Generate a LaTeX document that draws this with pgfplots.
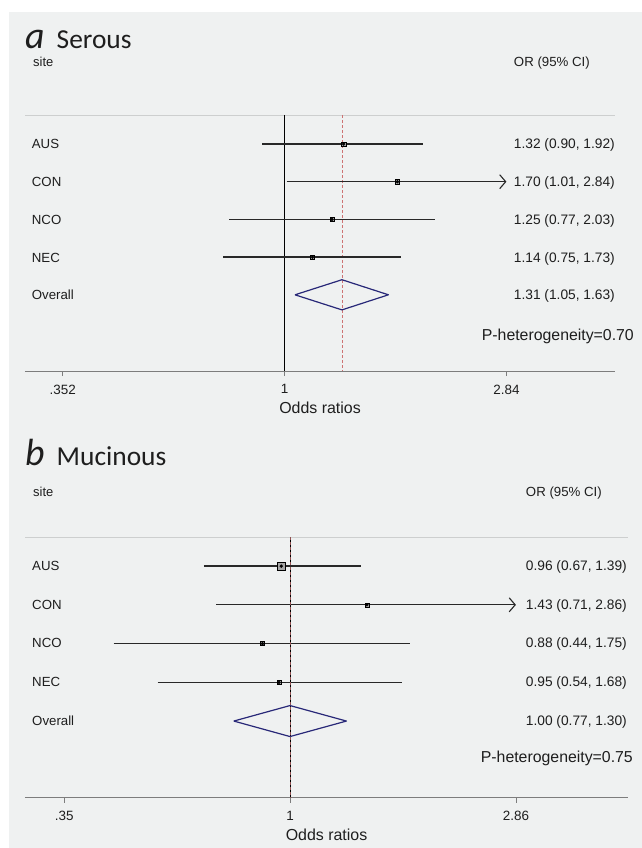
\documentclass[border=0pt]{standalone}
\usepackage{fontspec}
\setmainfont{Liberation Sans}
\newfontfamily\titlefont{Carlito}
\usepackage{pgfplots}
\pgfplotsset{compat=1.18}
\usetikzlibrary{arrows.meta}
\definecolor{bg}{RGB}{239,241,241}
\definecolor{navyd}{RGB}{40,40,120}
\definecolor{refred}{RGB}{205,115,115}
\definecolor{cigray}{RGB}{40,40,40}
\definecolor{axgray}{RGB}{125,125,125}
\definecolor{topgray}{RGB}{205,207,207}
\definecolor{boxgray}{RGB}{165,165,165}
\definecolor{txt}{RGB}{30,30,30}
\newcommand{\fs}[1]{\fontsize{#1}{#1}\selectfont}
\tikzset{ci/.style={cigray, line width=1.3bp},
  arr/.style={cigray, line width=1.3bp, -{Straight Barb[length=6bp,width=14bp,line width=1.1bp]}}}
\begin{document}
\begin{tikzpicture}[every node/.style={inner sep=0pt, text=txt}]
\fill[white] (0,0) rectangle (642bp,-848bp);
\fill[bg] (9bp,-12bp) rectangle (642bp,-848bp);
\draw[topgray, line width=0.8bp] (25bp,-115bp) -- (615bp,-115bp);
\draw[topgray, line width=0.8bp] (25bp,-537bp) -- (628bp,-537bp);

% ---------- panel a ----------
\begin{axis}[scale only axis, anchor=south west, xmode=log,
  axis x line*=bottom, axis y line=none,
  tick align=outside, major tick length=5bp,
  xminorticks=false,
  tick style={axgray, line width=0.6bp},
  axis line style={axgray, line width=0.8bp},
  xticklabel style={font=\fs{13.5}, text=txt, yshift=-8.5bp},
  clip=false,
  at={(25bp,-371bp)}, width=590bp, height=256bp,
  xmin=0.2948, xmax=4.734, ymin=-7.021, ymax=-0.231,
  xtick={0.352,1,2.84}, xticklabels={.352,1,2.84}]
\addplot[black, line width=0.7bp] coordinates {(1,-0.231) (1,-7.021)};
\addplot[refred, line width=0.7bp, dash pattern=on 3bp off 2bp] coordinates {(1.31,-0.231) (1.31,-7.021)};
\addplot[ci] coordinates {(0.90,-1) (1.92,-1)};
\addplot[arr] coordinates {(1.01,-2) (2.84,-2)};
\addplot[ci] coordinates {(0.77,-3) (2.03,-3)};
\addplot[ci] coordinates {(0.75,-4) (1.73,-4)};
\addplot[only marks, mark=square*, mark size=2.2bp, mark options={fill=boxgray, draw=none}] coordinates {(1.32,-1) (1.70,-2) (1.25,-3) (1.14,-4)};
\addplot[only marks, mark=*, mark size=1.5bp, black] coordinates {(1.32,-1) (1.70,-2) (1.25,-3) (1.14,-4)};
\addplot[navyd, line width=1.2bp, line join=round] coordinates {(1.05,-5) (1.31,-4.6) (1.63,-5) (1.31,-5.4) (1.05,-5)};
\end{axis}

\node[anchor=base west, font=\titlefont\itshape\fs{38}] at (25bp,-48bp) {a};
\node[anchor=base west, font=\titlefont\fs{27.5}] at (56.5bp,-48bp) {Serous};
\node[anchor=base west, font=\fs{13}] at (33bp,-66.5bp) {site};
\node[anchor=base east, font=\fs{13.3}] at (590bp,-66.5bp) {OR (95\% CI)};
\foreach \lab/\val/\yy in {AUS/{1.32 (0.90, 1.92)}/148.9, CON/{1.70 (1.01, 2.84)}/186.6, NCO/{1.25 (0.77, 2.03)}/224.3, NEC/{1.14 (0.75, 1.73)}/262, Overall/{1.31 (1.05, 1.63)}/299.7}{
  \node[anchor=base west, font=\fs{13.3}] at (31.7bp,-\yy bp) {\lab};
  \node[anchor=base east, font=\fs{13.8}] at (615bp,-\yy bp) {\val};
}
\node[anchor=base east, font=\fs{15.9}] at (634bp,-340.7bp) {P-heterogeneity=0.70};
\node[anchor=base, font=\fs{16}] at (320bp,-413.3bp) {Odds ratios};

% ---------- panel b ----------
\begin{axis}[scale only axis, anchor=south west, xmode=log,
  axis x line*=bottom, axis y line=none,
  tick align=outside, major tick length=5bp,
  xminorticks=false,
  tick style={axgray, line width=0.6bp},
  axis line style={axgray, line width=0.8bp},
  xticklabel style={font=\fs{13.5}, text=txt, yshift=-8.5bp},
  clip=false,
  at={(25bp,-797.5bp)}, width=603bp, height=260.5bp,
  xmin=0.2915, xmax=4.817, ymin=-6.973, ymax=-0.250,
  xtick={0.35,1,2.86}, xticklabels={.35,1,2.86}]
\addplot[black, line width=0.7bp] coordinates {(1,-0.250) (1,-6.973)};
\addplot[ci] coordinates {(0.67,-1) (1.39,-1)};
\addplot[arr] coordinates {(0.71,-2) (2.86,-2)};
\addplot[ci] coordinates {(0.44,-3) (1.75,-3)};
\addplot[ci] coordinates {(0.54,-4) (1.68,-4)};
\addplot[only marks, mark=square*, mark size=4.3bp, mark options={fill=boxgray, draw=none}] coordinates {(0.96,-1)};
\addplot[only marks, mark=square*, mark size=2.0bp, mark options={fill=boxgray, draw=none}] coordinates {(1.43,-2) (0.88,-3) (0.95,-4)};
\addplot[only marks, mark=*, mark size=1.5bp, black] coordinates {(0.96,-1) (1.43,-2) (0.88,-3) (0.95,-4)};
\addplot[refred!70!black, line width=0.7bp, dash pattern=on 3bp off 2bp] coordinates {(1.00,-0.250) (1.00,-6.973)};
\addplot[navyd, line width=1.2bp, line join=round] coordinates {(0.77,-5) (1.00,-4.6) (1.30,-5) (1.00,-5.4) (0.77,-5)};
\end{axis}

\node[anchor=base west, font=\titlefont\itshape\fs{38}] at (25bp,-465bp) {b};
\node[anchor=base west, font=\titlefont\fs{27.5}] at (56.5bp,-465bp) {Mucinous};
\node[anchor=base west, font=\fs{13}] at (33bp,-496.6bp) {site};
\node[anchor=base east, font=\fs{13.3}] at (602bp,-496.6bp) {OR (95\% CI)};
\foreach \lab/\val/\yy in {AUS/{0.96 (0.67, 1.39)}/570.9, CON/{1.43 (0.71, 2.86)}/609.2, NCO/{0.88 (0.44, 1.75)}/647.9, NEC/{0.95 (0.54, 1.68)}/686.9, Overall/{1.00 (0.77, 1.30)}/725.6}{
  \node[anchor=base west, font=\fs{13.3}] at (32bp,-\yy bp) {\lab};
  \node[anchor=base east, font=\fs{13.8}] at (627bp,-\yy bp) {\val};
}
\node[anchor=base east, font=\fs{15.9}] at (633bp,-762.7bp) {P-heterogeneity=0.75};
\node[anchor=base, font=\fs{16}] at (326.5bp,-840bp) {Odds ratios};
\end{tikzpicture}
\end{document}
